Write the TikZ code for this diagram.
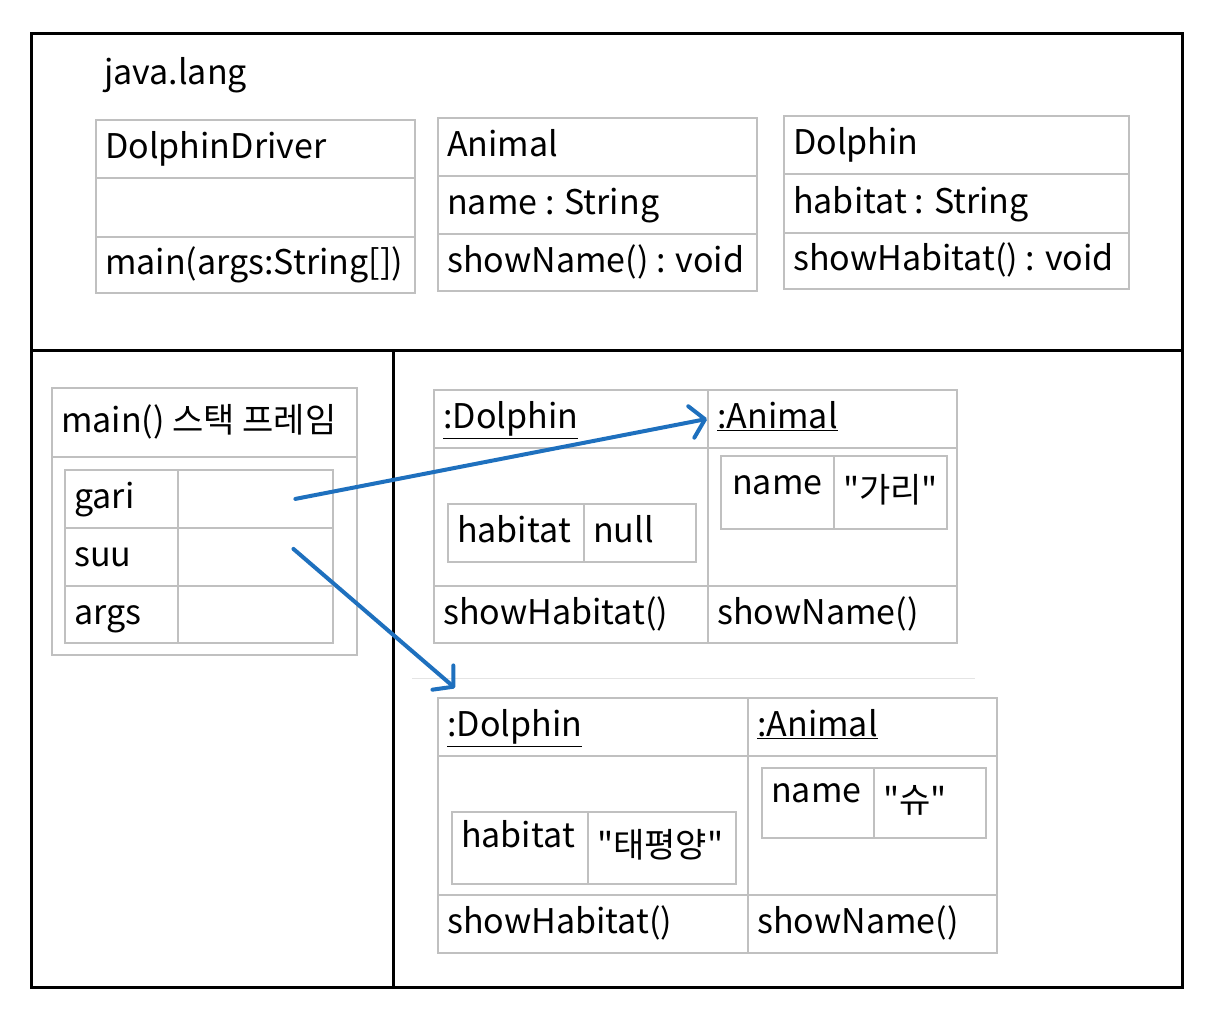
\documentclass[tikz,border=0pt]{standalone}
\usepackage{fontspec}
\setmainfont{Noto Sans CJK KR}[Ligatures=TeXOff]
\usetikzlibrary{positioning, arrows.meta}
\definecolor{refblue}{RGB}{30,112,190}
\definecolor{cellgray}{RGB}{192,192,192}
\definecolor{fadegray}{RGB}{228,228,228}

\begin{document}
\begin{tikzpicture}[
        x=1pt, y=-1pt,
        node distance=10pt,
        font=\fontsize{34}{40}\selectfont,
        frame/.style={line width=3pt, black},
        cell/.style={rectangle, draw=cellgray, line width=1.8pt, anchor=north west, inner sep=0pt},
        txt/.style={inner sep=0pt, text height=0.75em, text depth=0.2em, yshift=-7pt},
        sepline/.style={line width=1pt, fadegray},
        refarr/.style={-{Straight Barb[length=14pt, width=32pt, round]}, line width=4pt, refblue, line cap=round},
    ]
        \useasboundingbox (0,0) rectangle (1208,1018);

        % Outer frame and areas
        \draw[frame] (31,33) rectangle (1182,987);
        \draw[frame] (31,350) -- (1182,350);
        \draw[frame] (393,350) -- (393,987);

        % Method area: java.lang
        \node[txt, anchor=west] (pkg) at (104,75) {java.lang};

        \node[cell, minimum width=319pt, minimum height=58pt] (drvName) at (95,119) {};
        \node[cell, minimum width=319pt, minimum height=59pt] (drvAttr) at (95,177) {};
        \node[cell, minimum width=319pt, minimum height=56pt] (drvOp) at (95,236) {};
        \node[txt, right=of drvName.west] (drvNameT) {DolphinDriver};
        \node[txt, right=of drvOp.west] (drvOpT) {main(args:String[])};

        \node[cell, minimum width=319pt, minimum height=58pt] (aniName) at (437,117) {};
        \node[cell, minimum width=319pt, minimum height=58pt] (aniAttr) at (437,175) {};
        \node[cell, minimum width=319pt, minimum height=57pt] (aniOp) at (437,233) {};
        \node[txt, right=of aniName.west] (aniNameT) {Animal};
        \node[txt, right=of aniAttr.west] (aniAttrT) {name : String};
        \node[txt, right=of aniOp.west] (aniOpT) {showName() : void};

        \node[cell, minimum width=345pt, minimum height=58pt] (dolName) at (783,115) {};
        \node[cell, minimum width=345pt, minimum height=59pt] (dolAttr) at (783,173) {};
        \node[cell, minimum width=345pt, minimum height=56pt] (dolOp) at (783,232) {};
        \node[txt, right=of dolName.west] (dolNameT) {Dolphin};
        \node[txt, right=of dolAttr.west] (dolAttrT) {habitat : String};
        \node[txt, right=of dolOp.west] (dolOpT) {showHabitat() : void};

        % Stack frame of main()
        \node[cell, minimum width=305pt, minimum height=69pt] (stkHead) at (51,387) {};
        \node[cell, minimum width=305pt, minimum height=198pt] (stkBody) at (51,456) {};
        \node[txt, right=of stkHead.west] (stkHeadT) {main() 스택 프레임};

        \node[cell, minimum width=113pt, minimum height=58pt] (gari) at (64,469) {};
        \node[cell, minimum width=155pt, minimum height=58pt] (gariV) at (177,469) {};
        \node[cell, minimum width=113pt, minimum height=58pt] (suu) at (64,527) {};
        \node[cell, minimum width=155pt, minimum height=58pt] (suuV) at (177,527) {};
        \node[cell, minimum width=113pt, minimum height=57pt] (args) at (64,585) {};
        \node[cell, minimum width=155pt, minimum height=57pt] (argsV) at (177,585) {};
        \node[txt, right=of gari.west] (gariT) {gari};
        \node[txt, right=of suu.west] (suuT) {suu};
        \node[txt, right=of args.west] (argsT) {args};

        % Heap: first object
        \node[cell, minimum width=274pt, minimum height=58pt] (ob1Dol) at (433,389) {};
        \node[cell, minimum width=249pt, minimum height=58pt] (ob1Ani) at (707,389) {};
        \node[cell, minimum width=274pt, minimum height=138pt] (ob1DolAttr) at (433,447) {};
        \node[cell, minimum width=249pt, minimum height=138pt] (ob1AniAttr) at (707,447) {};
        \node[cell, minimum width=274pt, minimum height=57pt] (ob1DolOp) at (433,585) {};
        \node[cell, minimum width=249pt, minimum height=57pt] (ob1AniOp) at (707,585) {};
        \node[txt, right=of ob1Dol.west] (ob1DolT) {\underline{:Dolphin}};
        \node[txt, right=of ob1Ani.west] (ob1AniT) {\underline{:Animal}};
        \node[txt, right=of ob1DolOp.west] (ob1DolOpT) {showHabitat()};
        \node[txt, right=of ob1AniOp.west] (ob1AniOpT) {showName()};

        \node[cell, minimum width=136pt, minimum height=58pt] (ob1Hab) at (447,503) {};
        \node[cell, minimum width=112pt, minimum height=58pt] (ob1HabV) at (583,503) {};
        \node[txt, right=of ob1Hab.west] (ob1HabT) {habitat};
        \node[txt, right=of ob1HabV.west] (ob1HabVT) {null};
        \node[cell, minimum width=113pt, minimum height=73pt] (ob1Nm) at (720,455) {};
        \node[cell, minimum width=113pt, minimum height=73pt] (ob1NmV) at (833,455) {};
        \node[txt, right=12pt of ob1Nm.west, yshift=8pt] (ob1NmT) {name};
        \node[txt, right=of ob1NmV.west] (ob1NmVT) {"가리"};

        % Heap: second object
        \draw[sepline] (412,678) -- (975,678);
        \node[cell, minimum width=310pt, minimum height=58pt] (ob2Dol) at (437,697) {};
        \node[cell, minimum width=249pt, minimum height=58pt] (ob2Ani) at (747,697) {};
        \node[cell, minimum width=310pt, minimum height=139pt] (ob2DolAttr) at (437,755) {};
        \node[cell, minimum width=249pt, minimum height=139pt] (ob2AniAttr) at (747,755) {};
        \node[cell, minimum width=310pt, minimum height=58pt] (ob2DolOp) at (437,894) {};
        \node[cell, minimum width=249pt, minimum height=58pt] (ob2AniOp) at (747,894) {};
        \node[txt, right=of ob2Dol.west] (ob2DolT) {\underline{:Dolphin}};
        \node[txt, right=of ob2Ani.west] (ob2AniT) {\underline{:Animal}};
        \node[txt, right=of ob2DolOp.west] (ob2DolOpT) {showHabitat()};
        \node[txt, right=of ob2AniOp.west] (ob2AniOpT) {showName()};

        \node[cell, minimum width=136pt, minimum height=72pt] (ob2Hab) at (451,811) {};
        \node[cell, minimum width=148pt, minimum height=72pt] (ob2HabV) at (587,811) {};
        \node[txt, right=of ob2Hab.west, yshift=10pt] (ob2HabT) {habitat};
        \node[txt, right=of ob2HabV.west] (ob2HabVT) {"태평양"};
        \node[cell, minimum width=112pt, minimum height=70pt] (ob2Nm) at (761,767) {};
        \node[cell, minimum width=112pt, minimum height=70pt] (ob2NmV) at (873,767) {};
        \node[txt, right=of ob2Nm.west, yshift=10pt] (ob2NmT) {name};
        \node[txt, right=of ob2NmV.west] (ob2NmVT) {"슈"};

        % References from stack to heap
        \draw[refarr] ([xshift=40pt]gariV.center) -- (ob1Ani.west);
        \draw[refarr] ([xshift=38pt, yshift=8pt]suuV.center) -- ([xshift=18pt, yshift=9pt]ob2Dol.north west);
    \end{tikzpicture}
\end{document}
